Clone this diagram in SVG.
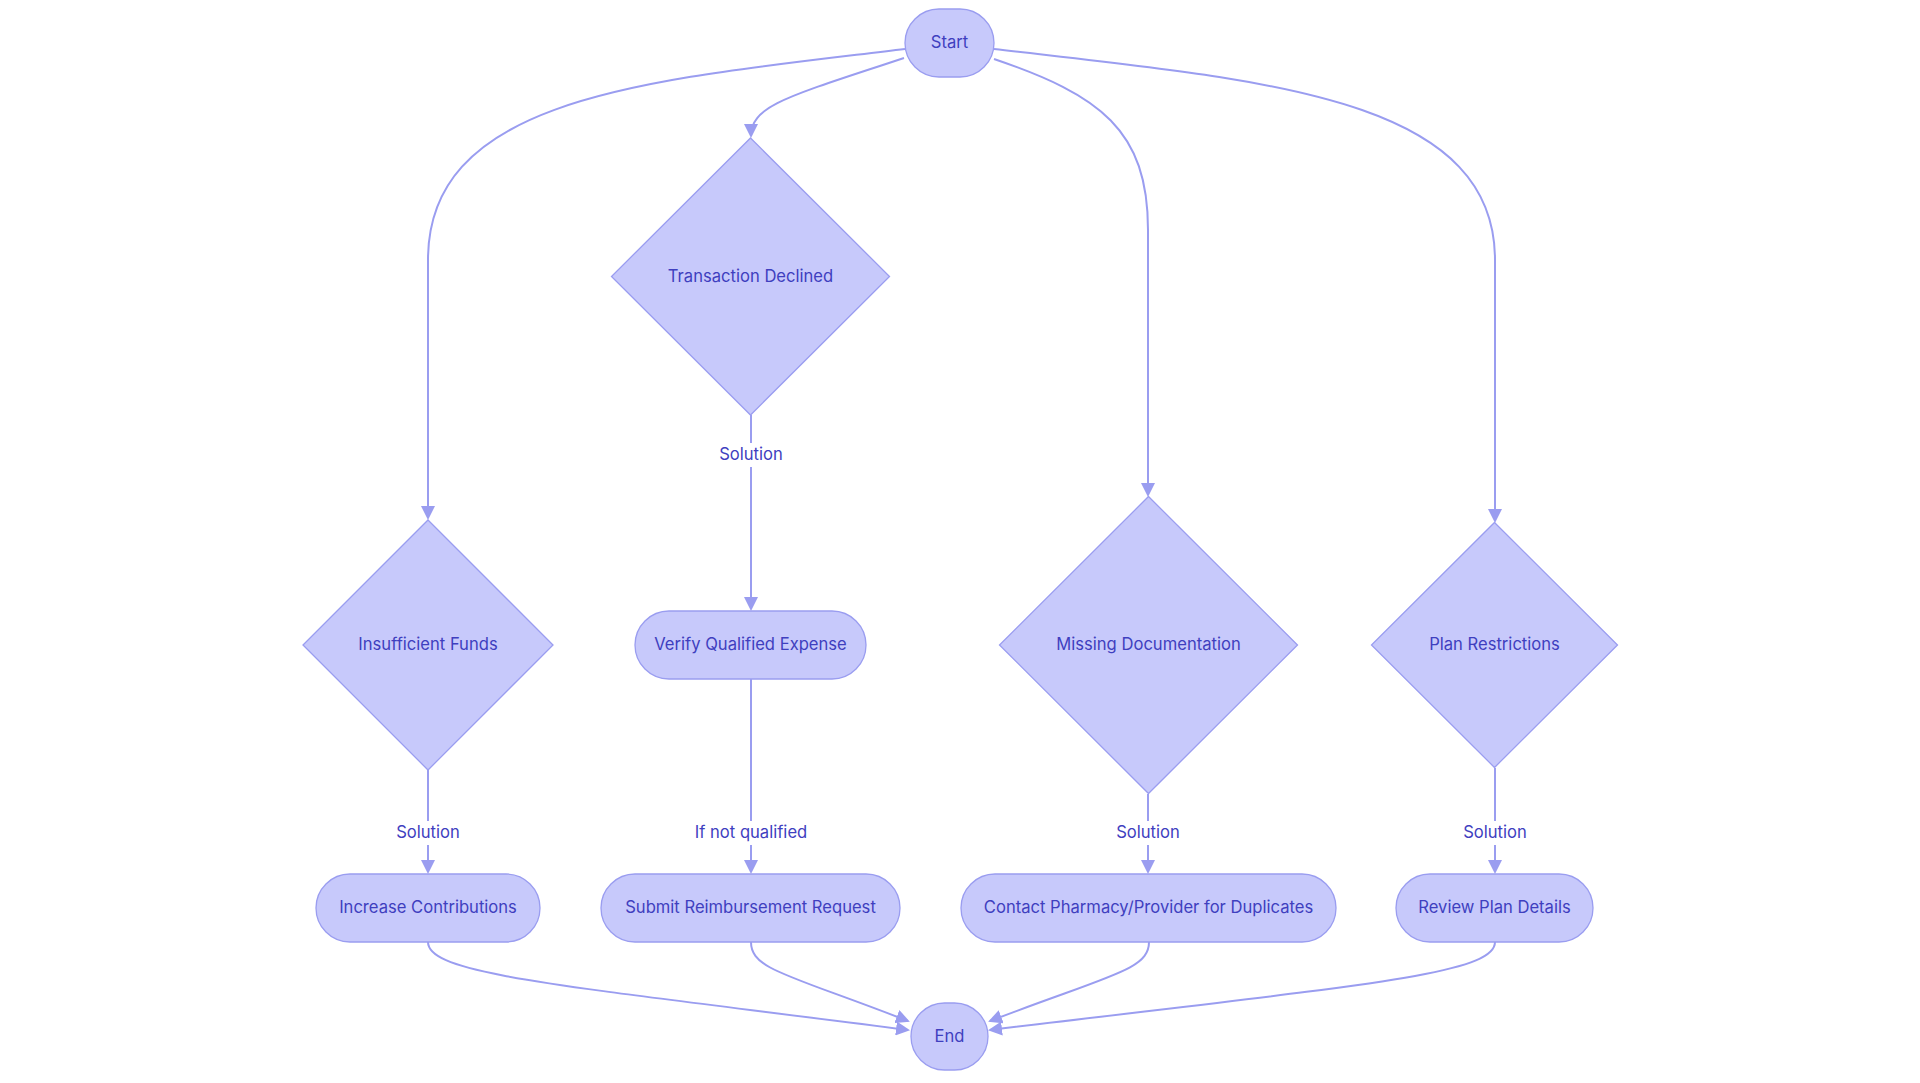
<svg xmlns="http://www.w3.org/2000/svg" width="1920" height="1083" viewBox="0 0 1920 1083">
<style>
.node{fill:#c7c9fb;stroke:#9a9df0;stroke-width:1.3}
.t{font-family:Inter,"Liberation Sans",sans-serif;font-size:16.6px;fill:#3f3fbf;text-anchor:middle;dominant-baseline:central}
.e{fill:none;stroke:#9a9df0;stroke-width:2}
.lb{fill:#ffffff}
</style>
<defs>
<marker id="arr" viewBox="0 0 14 14" markerWidth="14" markerHeight="14" markerUnits="userSpaceOnUse" refX="12" refY="7" orient="auto">
<path d="M0,0 L14,7 L0,14 z" fill="#9a9df0"/>
</marker>
</defs>
<rect width="1920" height="1083" fill="#ffffff"/>
<g id="connectors">
<path class="e" d="M905,49 C650,80 428,95 428,260 L428,518" marker-end="url(#arr)"/>
<path class="e" d="M904,58 C790,96 751,105 751,136" marker-end="url(#arr)"/>
<path class="e" d="M994,59 C1100,95 1148,130 1148,230 L1148,495" marker-end="url(#arr)"/>
<path class="e" d="M994,49 C1260,80 1495,95 1495,260 L1495,521" marker-end="url(#arr)"/>
<path class="e" d="M751,415 L751,609" marker-end="url(#arr)"/>
<path class="e" d="M751,679 L751,872" marker-end="url(#arr)"/>
<path class="e" d="M428,770 L428,872" marker-end="url(#arr)"/>
<path class="e" d="M1148,794 L1148,872" marker-end="url(#arr)"/>
<path class="e" d="M1495,768 L1495,872" marker-end="url(#arr)"/>
<path class="e" d="M428,942 C428,975 560,985 908,1030" marker-end="url(#arr)"/>
<path class="e" d="M751,942 C751,970 790,975 908,1021" marker-end="url(#arr)"/>
<path class="e" d="M1149,942 C1149,970 1110,975 990,1021" marker-end="url(#arr)"/>
<path class="e" d="M1495,942 C1495,975 1360,985 990,1030" marker-end="url(#arr)"/>
<g id="edge-labels">
<rect class="lb" x="717" y="443" width="68" height="24"/>
<text class="t" x="751" y="454">Solution</text>
<rect class="lb" x="693" y="821" width="116" height="24"/>
<text class="t" x="751" y="832">If not qualified</text>
<rect class="lb" x="394" y="821" width="68" height="24"/>
<text class="t" x="428" y="832">Solution</text>
<rect class="lb" x="1114" y="821" width="68" height="24"/>
<text class="t" x="1148" y="832">Solution</text>
<rect class="lb" x="1461" y="821" width="68" height="24"/>
<text class="t" x="1495" y="832">Solution</text>
</g>
</g>
<g id="start">
<rect class="node" x="905" y="9" width="89" height="68" rx="34" ry="34"/>
<text class="t" x="949.5" y="42">Start</text>
</g>
<g id="transaction-declined">
<polygon class="node" points="750.5,138 889.5,276.5 750.5,415 611.5,276.5"/>
<text class="t" x="750.5" y="275.5">Transaction Declined</text>
</g>
<g id="insufficient-funds">
<polygon class="node" points="428,520 553,645 428,770 303,645"/>
<text class="t" x="428" y="644">Insufficient Funds</text>
</g>
<g id="verify-qualified-expense">
<rect class="node" x="635" y="611" width="231" height="68" rx="34" ry="34"/>
<text class="t" x="750.5" y="644">Verify Qualified Expense</text>
</g>
<g id="missing-documentation">
<polygon class="node" points="1148.5,496.5 1297.5,645 1148.5,793.5 999.5,645"/>
<text class="t" x="1148.5" y="644">Missing Documentation</text>
</g>
<g id="plan-restrictions">
<polygon class="node" points="1494.5,522.5 1617.5,645 1494.5,767.5 1371.5,645"/>
<text class="t" x="1494.5" y="644">Plan Restrictions</text>
</g>
<g id="increase-contributions">
<rect class="node" x="316" y="874" width="224" height="68" rx="34" ry="34"/>
<text class="t" x="428" y="907">Increase Contributions</text>
</g>
<g id="submit-reimbursement-request">
<rect class="node" x="601" y="874" width="299" height="68" rx="34" ry="34"/>
<text class="t" x="750.5" y="907">Submit Reimbursement Request</text>
</g>
<g id="contact-pharmacy">
<rect class="node" x="961" y="874" width="375" height="68" rx="34" ry="34"/>
<text class="t" x="1148.5" y="907">Contact Pharmacy/Provider for Duplicates</text>
</g>
<g id="review-plan-details">
<rect class="node" x="1396" y="874" width="197" height="68" rx="34" ry="34"/>
<text class="t" x="1494.5" y="907">Review Plan Details</text>
</g>
<g id="end">
<rect class="node" x="911" y="1003" width="77" height="67" rx="33.5" ry="33.5"/>
<text class="t" x="949.5" y="1035.5">End</text>
</g>
</svg>
